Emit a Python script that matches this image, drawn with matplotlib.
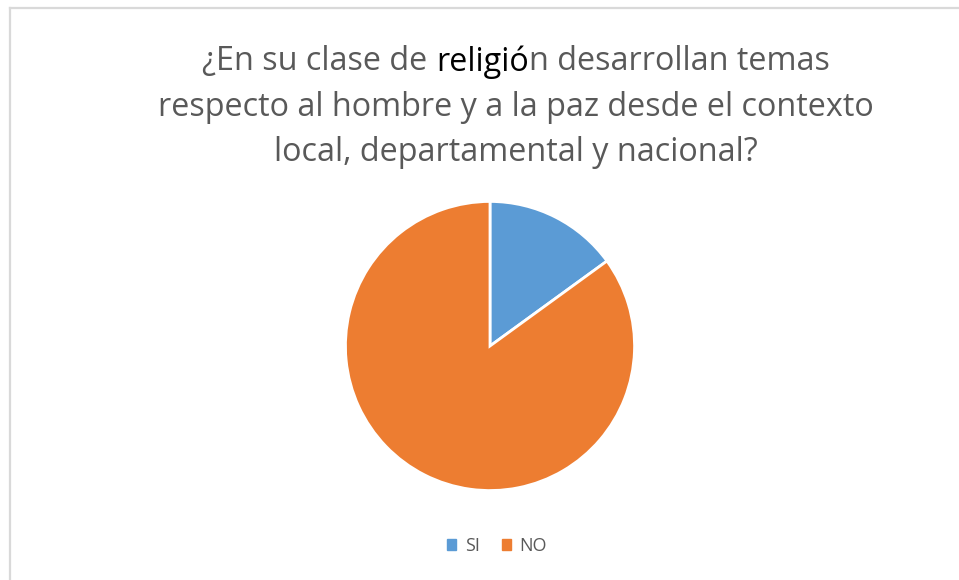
import matplotlib.pyplot as plt
from matplotlib.patches import Rectangle
from matplotlib.lines import Line2D

labels = ["SI", "NO"]
values = [15, 85]
colors = ["#5B9BD5", "#ED7D31"]

title_pre = "¿En su clase de "
title_bold = "religió"
title_post = "n desarrollan temas"
title_lines = ["respecto al hombre y a la paz desde el contexto",
               "local, departamental y nacional?"]

W, H = 959, 580
fig = plt.figure(figsize=(W / 100, H / 100), dpi=100)
plt.rcParams['font.family'] = ['Open Sans', 'DejaVu Sans']

# chart border (only top and left visible in the crop)
fig.add_artist(Line2D([10 / W, 10 / W], [0, 1 - 8 / H], color="#d9d9d9", lw=1.6))
fig.add_artist(Line2D([10 / W, 1], [1 - 8 / H, 1 - 8 / H], color="#d9d9d9", lw=1.6))

# title, first line has a darker word in it
fs = 23.3
gray = "#595959"
cx = 516 / W
renderer = fig.canvas.get_renderer()
parts = [(title_pre, gray), (title_bold, "black"), (title_post, gray)]
tmp = [fig.text(0, 0, p, fontsize=fs, color=c) for p, c in parts]
widths = [t.get_window_extent(renderer).width for t in tmp]
for t in tmp:
    t.remove()
x = cx * W - sum(widths) / 2
for (p, c), w in zip(parts, widths):
    fig.text(x / W, 1 - 62 / H, p, fontsize=fs, color=c, va="center", ha="left")
    x += w
for i, line in enumerate(title_lines):
    fig.text(cx, 1 - (107 + 45 * i) / H, line, fontsize=fs, color=gray,
             va="center", ha="center")

# pie
r = 146
ax = fig.add_axes([(490 - r) / W, (H - 346 - r) / H, 2 * r / W, 2 * r / H])
ax.pie(values, colors=colors, startangle=90, counterclock=False,
       wedgeprops=dict(edgecolor="white", linewidth=2))
ax.set_xlim(-1.01, 1.01)
ax.set_ylim(-1.01, 1.01)
ax.set_aspect("equal")
ax.axis("off")

# legend
handles = [Rectangle((0, 0), 1, 1, color=c) for c in colors]
fig.legend(handles, labels, loc="center", bbox_to_anchor=(497 / W, 1 - 546 / H),
           ncol=2, frameon=False, fontsize=13, handlelength=0.5, handleheight=0.5,
           handletextpad=0.5, columnspacing=1.2, labelcolor=gray)

fig.savefig("out.png", dpi=100)
